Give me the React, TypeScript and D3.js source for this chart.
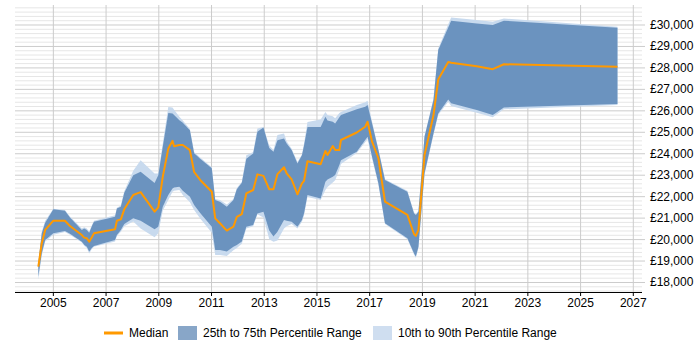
import * as d3 from 'd3';

// sample dates (decimal years) and salary percentiles
const years = [
  2004.43, 2004.56, 2004.69, 2005.0, 2005.44, 2005.63, 2006.08, 2006.17, 2006.27, 2006.36,
  2006.46, 2006.54, 2007.34, 2007.41, 2007.56, 2007.69, 2008.03, 2008.31, 2008.84, 2008.98,
  2009.15, 2009.36, 2009.52, 2009.58, 2009.78, 2009.91, 2010.18, 2010.34, 2010.57, 2011.01,
  2011.14, 2011.32, 2011.58, 2011.83, 2011.96, 2012.15, 2012.32, 2012.58, 2012.74, 2012.97,
  2013.19, 2013.35, 2013.5, 2013.75, 2013.85, 2014.04, 2014.26, 2014.43, 2014.51, 2014.64,
  2015.14, 2015.32, 2015.4, 2015.6, 2015.69, 2015.85, 2015.91, 2016.51, 2016.83, 2016.92,
  2017.09, 2017.33, 2017.58, 2018.43, 2018.68, 2018.75, 2018.85, 2019.08, 2019.42, 2019.6,
  2019.98, 2020.09, 2021.06, 2021.67, 2022.09, 2026.4,
];

const median = [
  18740, 19830, 20450, 20880, 20880, 20630, 20210, 20090, 20060, 19900,
  20110, 20290, 20480, 20880, 20940, 21410, 22080, 22210, 21300, 21500,
  22920, 24240, 24600, 24350, 24410, 24410, 24170, 23150, 22780, 22230,
  20990, 20760, 20420, 20600, 21060, 21190, 22150, 22310, 23040, 22970,
  22340, 22340, 23050, 23370, 23090, 22800, 22110, 22620, 22740, 23650,
  23510, 24130, 23940, 24360, 24170, 24170, 24640, 24990, 25260, 25490,
  24560, 23790, 21770, 21150, 20260, 20170, 20450, 23940, 25800, 27460,
  28280, 28240, 28080, 27940, 28170, 28050,
];

const p25 = [
  18280, 19360, 19980, 20290, 20400, 20270, 19900, 19760, 19670, 19440,
  19610, 19700, 19980, 20210, 20450, 20730, 20990, 20880, 20480, 20600,
  21530, 22080, 22380, 22430, 22460, 22270, 22000, 21610, 21240, 20600,
  19520, 19520, 19440, 19670, 19750, 19910, 20600, 20680, 21220, 21300,
  20420, 20140, 20370, 20910, 20880, 20830, 20600, 20910, 21230, 22080,
  21920, 22690, 22800, 22930, 23010, 23470, 23700, 24090, 24640, 24790,
  23860, 22620, 20760, 20060, 19360, 19210, 19670, 23090, 24940, 25870,
  26530, 26350, 26040, 25810, 26160, 26320,
];

const p75 = [
  18890, 20290, 20790, 21410, 21340, 21030, 20450, 20520, 20450, 20320,
  20620, 20830, 21060, 21450, 21530, 22180, 23000, 23160, 22640, 23000,
  24320, 25900, 25870, 25800, 25560, 25440, 25100, 24020, 23770, 23320,
  21840, 21760, 21530, 21840, 22350, 22650, 23770, 24010, 25020, 25220,
  24270, 24090, 24630, 24710, 24480, 24170, 23550, 23930, 24380, 25250,
  25250, 25720, 25550, 25490, 25410, 25700, 25800, 26070, 26190, 26270,
  25410, 24170, 22780, 22230, 21230, 21150, 21300, 24790, 26500, 28830,
  29880, 30200, 30070, 30000, 30200, 29870,
];

const p10 = [
  18130, 19250, 19910, 20220, 20350, 20220, 19860, 19710, 19610, 19350,
  19560, 19660, 19910, 20170, 20370, 20620, 20840, 20520, 20110, 20300,
  21340, 21840, 22230, 22270, 22310, 22080, 21740, 21380, 20980, 20320,
  19280, 19280, 19240, 19500, 19610, 19810, 20520, 20620, 21180, 21030,
  20010, 19900, 19960, 20520, 20620, 20730, 20520, 20830, 21130, 21990,
  21840, 22310, 22450, 22660, 22760, 23270, 23520, 24030, 24540, 24690,
  23780, 22560, 20730, 20010, 19300, 19150, 19610, 23010, 24900, 25800,
  26420, 26220, 25910, 25700, 26070, 26270,
];

const p90 = [
  18940, 20370, 20880, 21440, 21380, 21080, 20520, 20570, 20520, 20370,
  20670, 20880, 21130, 21480, 21590, 22250, 23210, 23700, 23080, 23080,
  24480, 26180, 26160, 26050, 25720, 25550, 25150, 24080, 23830, 23370,
  21890, 21840, 21640, 21890, 22400, 22700, 23930, 24080, 25180, 25250,
  24380, 24180, 24870, 24940, 24580, 24230, 23620, 23970, 24480, 25480,
  25600, 25950, 25800, 25750, 25650, 25900, 25950, 26270, 26400, 26470,
  25500, 24230, 22810, 22270, 21270, 21190, 21340, 24840, 26570, 28910,
  30030, 30350, 30230, 30150, 30300, 29920,
];

const yearTicks = d3.range(2005, 2028, 2);
const salaryTicks = d3.range(18000, 30001, 1000);
const legendLabels = ['Median', '25th to 75th Percentile Range', '10th to 90th Percentile Range'];

const W = 700;
const H = 350;
const FONT = '"Liberation Sans", Arial, sans-serif';
const ORANGE = '#ff9900';
const DARK = '#6b93bf';
const LIGHT = '#c8daee';

export default function App() {
  const x = d3.scaleLinear().domain([2003.545, 2027.33]).range([15, 642]);
  const y = d3.scaleLinear().domain([17557, 30932]).range([292, 5]);

  const idx = years.map((_, i) => i);
  const outer = d3.area<number>()
    .x((i) => x(years[i]))
    .y0((i) => y(p10[i]))
    .y1((i) => y(p90[i]));
  const inner = d3.area<number>()
    .x((i) => x(years[i]))
    .y0((i) => y(p25[i]))
    .y1((i) => y(p75[i]));
  const line = d3.line<number>()
    .x((i) => x(years[i]))
    .y((i) => y(median[i]));

  const [x0, x1] = x.range();
  const minor = d3.range(17600, 30932, 200).filter((v) => v % 1000 !== 0);

  return (
    <>
      <style>{'body{margin:0}'}</style>
      <svg width={W} height={H} style={{ display: 'block', fontFamily: FONT }}>
        {/* grid */}
        {minor.map((v) => (
          <line key={'m' + v} x1={x0} x2={x1} y1={y(v)} y2={y(v)} stroke="#e6e6e6" strokeWidth={1} />
        ))}
        {salaryTicks.map((v) => (
          <line key={'M' + v} x1={x0} x2={x1 + 3} y1={y(v)} y2={y(v)} stroke="#cccccc" strokeWidth={1} />
        ))}
        {yearTicks.map((t) => (
          <line key={'v' + t} x1={x(t)} x2={x(t)} y1={5} y2={292} stroke="#cccccc" strokeWidth={1} />
        ))}

        {/* percentile bands and median */}
        <path d={outer(idx) || ''} fill={LIGHT} />
        <path d={inner(idx) || ''} fill={DARK} />
        <path
          d={line(idx) || ''}
          fill="none"
          stroke={ORANGE}
          strokeWidth={2}
          strokeLinejoin="round"
        />

        {/* x axis */}
        <line x1={x0} x2={x1} y1={292.5} y2={292.5} stroke="#000" strokeWidth={1} />
        {yearTicks.map((t) => (
          <g key={'t' + t}>
            <line x1={x(t)} x2={x(t)} y1={292} y2={296} stroke="#000" strokeWidth={1} />
            <text x={x(t)} y={307} fontSize={12} textAnchor="middle" fill="#000">
              {t}
            </text>
          </g>
        ))}

        {/* y axis labels */}
        {salaryTicks.map((v) => (
          <text key={'l' + v} x={650} y={y(v) + 4} fontSize={12} fill="#000">
            {'£' + d3.format(',')(v)}
          </text>
        ))}

        {/* legend */}
        <g transform="translate(0,333)">
          <line x1={104} x2={123} y1={0} y2={0} stroke={ORANGE} strokeWidth={3} />
          <text x={129} y={4} fontSize={12} fill="#000">{legendLabels[0]}</text>
          <rect x={178} y={-7} width={19} height={14} fill="#88a6c8" />
          <text x={203} y={4} fontSize={12} fill="#000">{legendLabels[1]}</text>
          <rect x={373} y={-7} width={19} height={14} fill="#cfdef0" />
          <text x={398} y={4} fontSize={12} fill="#000">{legendLabels[2]}</text>
        </g>
      </svg>
    </>
  );
}
